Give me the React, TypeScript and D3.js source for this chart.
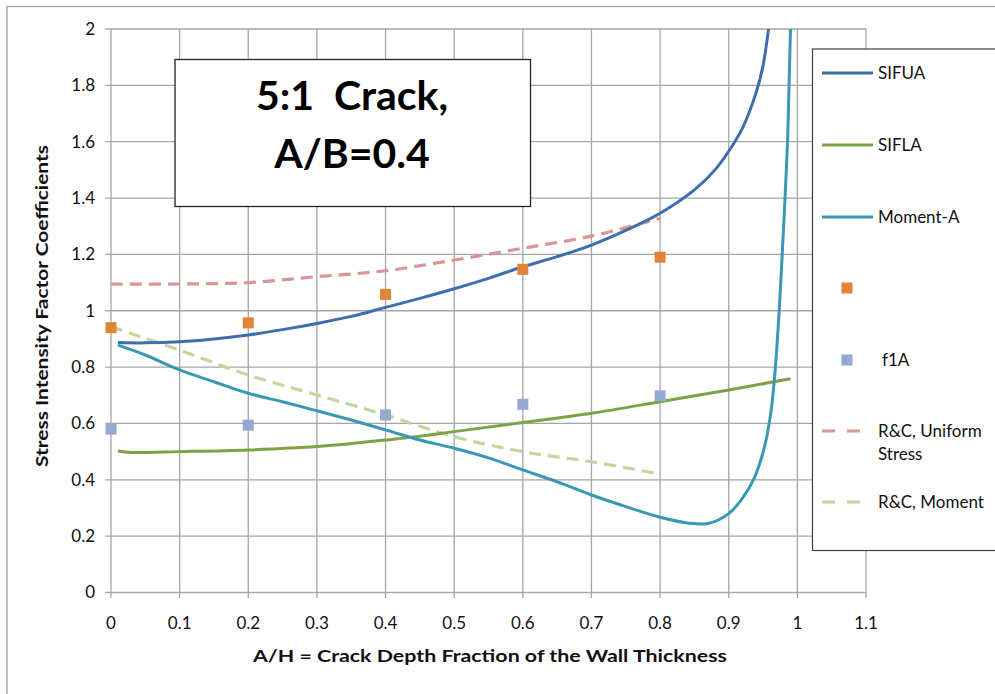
import React from 'react';
import * as d3 from 'd3';

// ---- data ----
const xTicks = [0, 0.1, 0.2, 0.3, 0.4, 0.5, 0.6, 0.7, 0.8, 0.9, 1, 1.1];
const yTicks = [0, 0.2, 0.4, 0.6, 0.8, 1, 1.2, 1.4, 1.6, 1.8, 2];

const sifuaX = [0.01, 0.05, 0.1, 0.15, 0.2, 0.25, 0.3, 0.35, 0.4, 0.45, 0.5, 0.55, 0.6, 0.65, 0.7, 0.75, 0.8, 0.85, 0.88, 0.9, 0.92, 0.94, 0.95, 0.958, 0.965];
const sifuaY = [0.887, 0.886, 0.89, 0.9, 0.914, 0.933, 0.955, 0.98, 1.012, 1.044, 1.078, 1.115, 1.156, 1.192, 1.233, 1.285, 1.346, 1.429, 1.5, 1.566, 1.648, 1.775, 1.87, 2.0, 2.15];

const siflaX = [0.01, 0.03, 0.1, 0.2, 0.3, 0.4, 0.5, 0.6, 0.7, 0.8, 0.9, 0.99];
const siflaY = [0.502, 0.497, 0.5, 0.506, 0.518, 0.541, 0.571, 0.603, 0.636, 0.677, 0.719, 0.759];

const momentX = [0.01, 0.05, 0.1, 0.15, 0.2, 0.25, 0.3, 0.35, 0.4, 0.45, 0.5, 0.55, 0.6, 0.65, 0.7, 0.75, 0.8, 0.84, 0.87, 0.9, 0.92, 0.936, 0.948, 0.956, 0.962, 0.967, 0.972, 0.976, 0.981, 0.986, 0.99, 0.995];
const momentY = [0.878, 0.843, 0.79, 0.748, 0.707, 0.677, 0.645, 0.612, 0.577, 0.541, 0.512, 0.478, 0.435, 0.393, 0.346, 0.305, 0.267, 0.247, 0.245, 0.28, 0.335, 0.4, 0.48, 0.56, 0.65, 0.77, 0.94, 1.109, 1.35, 1.62, 2.0, 2.5];

const pointsX = [0, 0.2, 0.4, 0.6, 0.8];
const orangeY = [0.94, 0.957, 1.058, 1.147, 1.19];
const f1aY = [0.58, 0.594, 0.63, 0.668, 0.698];

const rcX = [0, 0.1, 0.2, 0.3, 0.4, 0.5, 0.6, 0.7, 0.8];
const rcUniformY = [1.095, 1.095, 1.1, 1.121, 1.142, 1.18, 1.222, 1.265, 1.328];
const rcMomentY = [0.943, 0.86, 0.772, 0.701, 0.63, 0.553, 0.5, 0.464, 0.42];

const legendLabels = ['SIFUA', 'SIFLA', 'Moment-A', '', 'f1A', 'R&C, Uniform|Stress', 'R&C, Moment'];

const C = {
  sifua: '#3E6EAE',
  sifla: '#7FA344',
  moment: '#3A98B4',
  orange: '#E0843A',
  f1a: '#94A8D2',
  rcU: '#D99694',
  rcM: '#C3D69B',
  grid: '#A6A6A6',
};

const FONT = 'Lato, "Open Sans", "DejaVu Sans", sans-serif';

export default function App() {
  const W = 995, H = 694;
  const x = d3.scaleLinear().domain([0, 1.1]).range([111, 866]);
  const y = d3.scaleLinear().domain([0, 2]).range([592.5, 29]);

  const line = (xs: number[], ys: number[]) =>
    d3.line<number>().x((_, i) => x(xs[i])).y((d) => y(d)).curve(d3.curveCatmullRom.alpha(0.5))(ys) || '';

  const legendX = 812.5;
  const legendTop = 49;
  const legendBottom = 550.5;
  const legendYs = [73, 145, 217, 288, 360, 431, 502];
  const sq = 11;

  return (
    <svg width={W} height={H} style={{ display: 'block', position: 'absolute', left: 0, top: 0 }} fontFamily={FONT}>
      <rect x={0} y={0} width={W} height={H} fill="#fff" />
      {/* outer chart border */}
      <rect x={7} y={6.5} width={W + 20} height={H + 20} fill="none" stroke="#A0A0A0" strokeWidth={1.3} />
      <defs>
        <clipPath id="plotClip">
          <rect x={111} y={29} width={755} height={563.5} />
        </clipPath>
      </defs>
      {/* gridlines */}
      {yTicks.map((t) => (
        <line key={'gy' + t} x1={105} x2={866} y1={y(t)} y2={y(t)} stroke={C.grid} strokeWidth={1.3} />
      ))}
      {xTicks.map((t) => (
        <line key={'gx' + t} x1={x(t)} x2={x(t)} y1={29} y2={598} stroke={C.grid} strokeWidth={1.3} />
      ))}
      {/* tick labels */}
      {yTicks.map((t) => (
        <text key={'ty' + t} x={95} y={y(t)} dy="0.35em" textAnchor="end" fontSize={17} fill="#111">
          {d3.format('~g')(t)}
        </text>
      ))}
      {xTicks.map((t) => (
        <text key={'tx' + t} x={x(t)} y={629} textAnchor="middle" fontSize={17} fill="#111">
          {d3.format('~g')(t)}
        </text>
      ))}
      {/* axis titles */}
      <text x={490} y={662} textAnchor="middle" fontSize={17} fontWeight="bold" fill="#111" textLength={474} lengthAdjust="spacingAndGlyphs">
        A/H = Crack Depth Fraction of the Wall Thickness
      </text>
      <text transform="translate(48,306) rotate(-90)" textAnchor="middle" fontSize={17} fontWeight="bold" fill="#111" textLength={322} lengthAdjust="spacingAndGlyphs">
        Stress Intensity Factor Coefficients
      </text>

      {/* series */}
      <g clipPath="url(#plotClip)" fill="none" strokeLinejoin="round" strokeLinecap="butt">
        <path d={line(rcX, rcUniformY)} stroke={C.rcU} strokeWidth={3.2} strokeDasharray="12 7" />
        <path d={line(rcX, rcMomentY)} stroke={C.rcM} strokeWidth={3.2} strokeDasharray="12 7" />
        <path d={line(siflaX, siflaY)} stroke={C.sifla} strokeWidth={3} />
        <path d={line(momentX, momentY)} stroke={C.moment} strokeWidth={3} />
        <path d={line(sifuaX, sifuaY)} stroke={C.sifua} strokeWidth={3} />
      </g>
      {pointsX.map((v, i) => (
        <rect key={'o' + i} x={x(v) - sq / 2} y={y(orangeY[i]) - sq / 2} width={sq} height={sq} fill={C.orange} />
      ))}
      {pointsX.map((v, i) => (
        <rect key={'f' + i} x={x(v) - sq / 2} y={y(f1aY[i]) - sq / 2} width={sq} height={sq} fill={C.f1a} />
      ))}

      {/* title box */}
      <rect x={175} y={59.5} width={355.5} height={147} fill="#fff" stroke="#222" strokeWidth={1.3} />
      <text x={352} y={110} textAnchor="middle" fontSize={41} fontWeight="bold" fill="#000" style={{ whiteSpace: 'pre' }}>
        {'5:1  Crack,'}
      </text>
      <text x={352} y={168} textAnchor="middle" fontSize={41} fontWeight="bold" fill="#000">
        A/B=0.4
      </text>

      {/* legend */}
      <rect x={legendX} y={legendTop} width={W} height={legendBottom - legendTop} fill="#fff" stroke="#404040" strokeWidth={1.2} />
      {legendLabels.map((lab, i) => {
        const ly = legendYs[i];
        const parts = lab.split('|');
        let sample: React.ReactNode = null;
        if (i === 0) sample = <line x1={822} x2={873} y1={ly} y2={ly} stroke={C.sifua} strokeWidth={3} />;
        if (i === 1) sample = <line x1={822} x2={873} y1={ly} y2={ly} stroke={C.sifla} strokeWidth={3} />;
        if (i === 2) sample = <line x1={822} x2={873} y1={ly} y2={ly} stroke={C.moment} strokeWidth={3} />;
        if (i === 3) sample = <rect x={847 - sq / 2} y={ly - sq / 2} width={sq} height={sq} fill={C.orange} />;
        if (i === 4) sample = <rect x={847 - sq / 2} y={ly - sq / 2} width={sq} height={sq} fill={C.f1a} />;
        if (i === 5) sample = <line x1={822} x2={860} y1={ly} y2={ly} stroke={C.rcU} strokeWidth={3.2} strokeDasharray="13 12" />;
        if (i === 6) sample = <line x1={822} x2={860} y1={ly} y2={ly} stroke={C.rcM} strokeWidth={3.2} strokeDasharray="13 12" />;
        const tx = i === 4 ? 882 : 878;
        return (
          <g key={'lg' + i}>
            {sample}
            {parts.map((p, j) =>
              p ? (
                <text key={j} x={tx} y={ly + j * 23.5} dy="0.35em" fontSize={17} fill="#111">
                  {p}
                </text>
              ) : null
            )}
          </g>
        );
      })}
    </svg>
  );
}
